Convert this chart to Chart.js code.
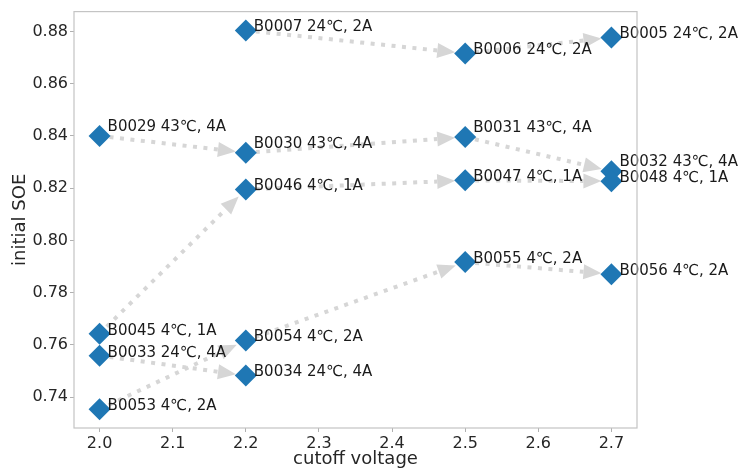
<!DOCTYPE html>
<html>
<head>
<meta charset="utf-8">
<script src="https://cdn.jsdelivr.net/npm/chart.js@4.4.1/dist/chart.umd.min.js"></script>
<style>
  html, body { margin: 0; padding: 0; background: #fff; }
  #wrap { width: 740px; height: 470px; }
</style>
</head>
<body>
<div id="wrap"><canvas id="soeChart" width="740" height="470"></canvas></div>
<script>
// battery ids, their test conditions and measured values
const names = ["B0029", "B0045", "B0033", "B0053", "B0007", "B0030", "B0046", "B0054", "B0034",
  "B0006", "B0031", "B0047", "B0055", "B0005", "B0032", "B0048", "B0056"];
const conditions = ["43℃, 4A", "4℃, 1A", "24℃, 4A", "4℃, 2A", "24℃, 2A", "43℃, 4A", "4℃, 1A", "4℃, 2A", "24℃, 4A",
  "24℃, 2A", "43℃, 4A", "4℃, 1A", "4℃, 2A", "24℃, 2A", "43℃, 4A", "4℃, 1A", "4℃, 2A"];
const cutoffVoltage = [2.0, 2.0, 2.0, 2.0, 2.2, 2.2, 2.2, 2.2, 2.2, 2.5, 2.5, 2.5, 2.5, 2.7, 2.7, 2.7, 2.7];
const initialSOE = [0.840, 0.7643, 0.7559, 0.7354, 0.8804, 0.8336, 0.8195, 0.7617, 0.7483,
  0.8716, 0.8396, 0.8230, 0.7917, 0.8777, 0.8265, 0.8227, 0.7871];

// arrows go from one battery to the next one of the same condition
const links = [["B0029", "B0030"], ["B0030", "B0031"], ["B0031", "B0032"],
  ["B0007", "B0006"], ["B0006", "B0005"],
  ["B0045", "B0046"], ["B0046", "B0047"], ["B0047", "B0048"],
  ["B0033", "B0034"],
  ["B0053", "B0054"], ["B0054", "B0055"], ["B0055", "B0056"]];

const xTicks = [2.0, 2.1, 2.2, 2.3, 2.4, 2.5, 2.6, 2.7];
const yTicks = [0.74, 0.76, 0.78, 0.80, 0.82, 0.84, 0.86, 0.88];

// the 43℃ labels sit a little higher than the rest
const labelLift = conditions.map(c => c.startsWith("43") ? 5 : -1);

const FONT = "'DejaVu Sans', sans-serif";
const BLUE = "#1f77b4";

const arrowPlugin = {
  id: "arrows",
  beforeDatasetsDraw(chart) {
    const ctx = chart.ctx;
    const xs = chart.scales.x, ys = chart.scales.y;
    const pos = name => {
      const i = names.indexOf(name);
      return [xs.getPixelForValue(cutoffVoltage[i]), ys.getPixelForValue(initialSOE[i])];
    };
    ctx.save();
    links.forEach(([a, b]) => {
      const [x1, y1] = pos(a), [x2, y2] = pos(b);
      const len = Math.hypot(x2 - x1, y2 - y1);
      const ux = (x2 - x1) / len, uy = (y2 - y1) / len;
      const sx = x1 + ux * 10, sy = y1 + uy * 10;
      const ex = x2 - ux * 10, ey = y2 - uy * 10;
      const head = 18, half = 7.5;
      const bx = ex - ux * head, by = ey - uy * head;
      ctx.strokeStyle = "#d6d6d6";
      ctx.lineWidth = 4;
      ctx.setLineDash([4, 6.5]);
      ctx.beginPath();
      ctx.moveTo(sx, sy);
      ctx.lineTo(bx, by);
      ctx.stroke();
      ctx.setLineDash([]);
      ctx.fillStyle = "#d6d6d6";
      ctx.beginPath();
      ctx.moveTo(ex, ey);
      ctx.lineTo(bx - uy * half, by + ux * half);
      ctx.lineTo(bx + uy * half, by - ux * half);
      ctx.closePath();
      ctx.fill();
    });
    ctx.restore();
  },
  afterDatasetsDraw(chart) {
    const ctx = chart.ctx;
    const xs = chart.scales.x, ys = chart.scales.y;
    ctx.save();
    ctx.font = "15px " + FONT;
    ctx.fillStyle = "#1a1a1a";
    ctx.textBaseline = "alphabetic";
    ctx.textAlign = "left";
    names.forEach((n, i) => {
      const x = xs.getPixelForValue(cutoffVoltage[i]);
      const y = ys.getPixelForValue(initialSOE[i]);
      ctx.fillText(n + " " + conditions[i], x + 8, y - labelLift[i]);
    });
    // light frame around the plot area
    const a = chart.chartArea;
    ctx.strokeStyle = "#c4c4c4";
    ctx.lineWidth = 1.2;
    ctx.strokeRect(a.left, a.top, a.right - a.left, a.bottom - a.top);
    ctx.restore();
  }
};

new Chart(document.getElementById("soeChart"), {
  type: "scatter",
  data: {
    datasets: [{
      data: names.map((n, i) => ({ x: cutoffVoltage[i], y: initialSOE[i] })),
      pointStyle: "rectRot",
      pointRadius: 11,
      pointHoverRadius: 11,
      backgroundColor: BLUE,
      borderColor: BLUE,
      borderWidth: 0
    }]
  },
  plugins: [arrowPlugin],
  options: {
    responsive: false,
    animation: false,
    events: [],
    layout: { padding: { top: 9, right: 103, left: 0, bottom: 0 } },
    plugins: { legend: { display: false }, tooltip: { enabled: false } },
    scales: {
      x: {
        type: "linear",
        min: 1.965,
        max: 2.735,
        afterBuildTicks: s => { s.ticks = xTicks.map(v => ({ value: v })); },
        afterFit: s => { s.height = 42; },
        border: { display: false },
        grid: { drawOnChartArea: false, color: "#b0b0b0", tickLength: 4, lineWidth: 1 },
        ticks: {
          font: { family: FONT, size: 16 }, color: "#262626", padding: 2,
          maxRotation: 0, callback: v => v.toFixed(1)
        },
        title: {
          display: true, text: "cutoff voltage",
          font: { family: FONT, size: 18 }, color: "#262626", padding: { top: -2, bottom: 0 }
        }
      },
      y: {
        type: "linear",
        min: 0.7282,
        max: 0.8876,
        afterBuildTicks: s => { s.ticks = yTicks.map(v => ({ value: v })); },
        afterFit: s => { s.width = 74; },
        border: { display: false },
        grid: { drawOnChartArea: false, color: "#b0b0b0", tickLength: 4, lineWidth: 1 },
        ticks: {
          font: { family: FONT, size: 16 }, color: "#262626", padding: 2,
          callback: v => v.toFixed(2)
        },
        title: {
          display: true, text: "initial SOE",
          font: { family: FONT, size: 18 }, color: "#262626", padding: { top: 10, bottom: 0 }
        }
      }
    }
  }
});
</script>
</body>
</html>
